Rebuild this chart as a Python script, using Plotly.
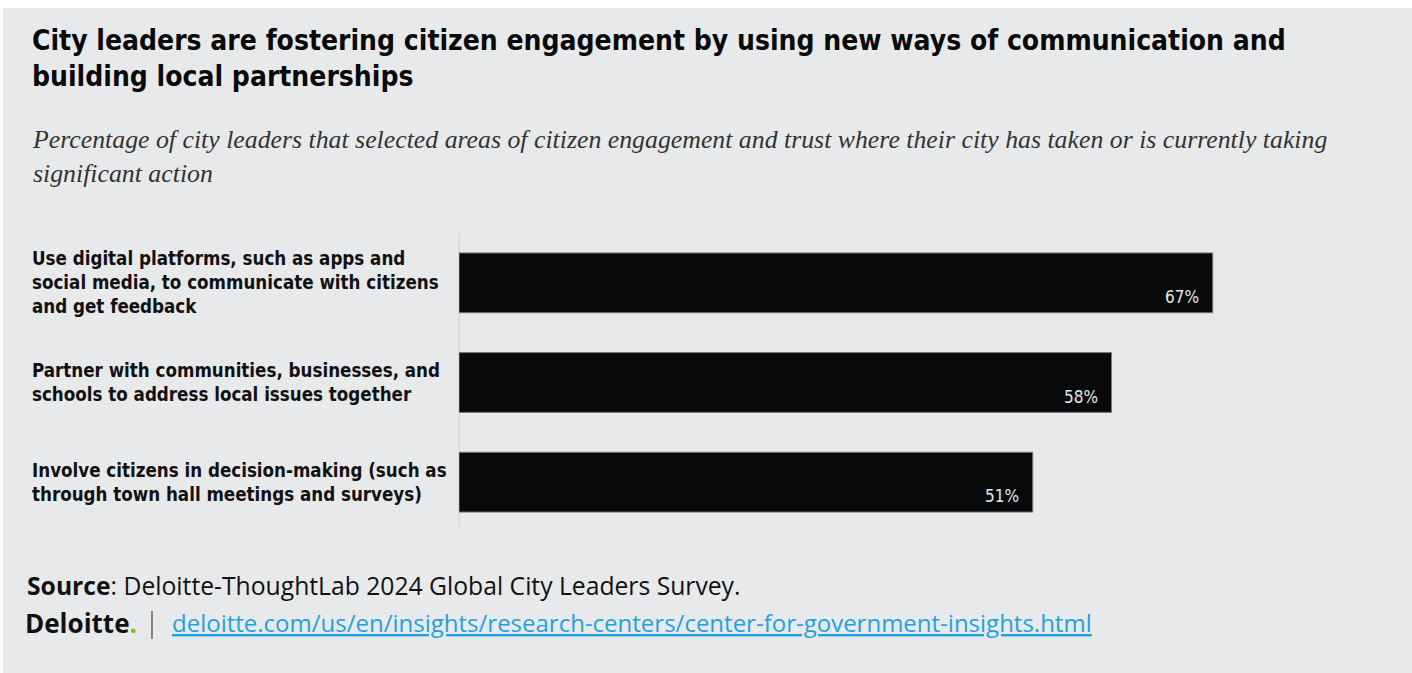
import plotly.graph_objects as go

categories = [
    "Use digital platforms, such as apps and<br>social media, to communicate with citizens<br>and get feedback",
    "Partner with communities, businesses, and<br>schools to address local issues together",
    "Involve citizens in decision-making (such as<br>through town hall meetings and surveys)",
]
values = [67, 58, 51]
value_labels = ["67%", "58%", "51%"]

title = ("City leaders are fostering citizen engagement by using new ways of communication and"
         "<br>building local partnerships")
subtitle = ("Percentage of city leaders that selected areas of citizen engagement and trust where their city has taken or is currently taking"
            "<br>significant action")
source_text = "<b>Source</b>: Deloitte-ThoughtLab 2024 Global City Leaders Survey."
link_text = "deloitte.com/us/en/insights/research-centers/center-for-government-insights.html"

W, H = 1412, 673
BG = "#e8e9eb"
COND = "DejaVu Sans Condensed, Roboto Condensed, Roboto"

fig = go.Figure()
fig.add_trace(go.Bar(
    x=values, y=categories, orientation="h",
    marker=dict(color="#08090b", line=dict(color="#777", width=1)),
    width=0.6, hoverinfo="skip",
))

ml, mr, mt, mb = 459, 12, 233, 141

def px_x(p):
    return (p - ml) / (W - ml - mr)

def px_y(p):
    return 1 - (p - mt) / (H - mt - mb)

ann = []
# category labels (left-aligned)
for c in categories:
    ann.append(dict(x=px_x(30), xref="paper", y=c, yref="y", text="<b>" + c + "</b>", showarrow=False,
                    xanchor="left", yanchor="middle", align="left",
                    font=dict(family=COND, size=18.6, color="#111")))
# value labels
for c, v, t in zip(categories, values, value_labels):
    ann.append(dict(x=v, xref="x", y=c, yref="y", text=t, showarrow=False,
                    xanchor="right", yanchor="middle", xshift=-12, yshift=-14,
                    font=dict(family=COND, size=17, color="#e6e6e6")))

# title / subtitle
ann.append(dict(x=px_x(30), xref="paper", y=px_y(22), yref="paper", text="<b>" + title + "</b>",
                showarrow=False, xanchor="left", yanchor="top", align="left",
                font=dict(family=COND, size=28, color="#0a0a0a")))
ann.append(dict(x=px_x(30), xref="paper", y=px_y(123), yref="paper", text="<i>" + subtitle + "</i>",
                showarrow=False, xanchor="left", yanchor="top", align="left",
                font=dict(family="Liberation Serif", size=25.8, color="#333")))
# footer
ann.append(dict(x=px_x(25), xref="paper", y=px_y(585), yref="paper", text=source_text,
                showarrow=False, xanchor="left", yanchor="middle", align="left",
                font=dict(family="Open Sans", size=24.7, color="#111")))
ann.append(dict(x=px_x(23), xref="paper", y=px_y(623), yref="paper",
                text="<b>Deloitte</b><span style='color:#86bc25'><b>.</b></span>",
                showarrow=False, xanchor="left", yanchor="middle", align="left",
                font=dict(family="Open Sans", size=26, color="#111")))
ann.append(dict(x=px_x(170), xref="paper", y=px_y(622), yref="paper", text="<u>" + link_text + "</u>",
                showarrow=False, xanchor="left", yanchor="middle", align="left",
                font=dict(family="Open Sans", size=24, color="#1fa3e0")))

shapes = [
    dict(type="rect", xref="paper", yref="paper", x0=px_x(0), x1=px_x(W), y0=px_y(0), y1=px_y(8),
         fillcolor="white", line=dict(width=0), layer="below"),
    dict(type="rect", xref="paper", yref="paper", x0=px_x(0), x1=px_x(3), y0=px_y(0), y1=px_y(H),
         fillcolor="white", line=dict(width=0), layer="below"),
    dict(type="line", xref="paper", yref="paper", x0=px_x(152), x1=px_x(152), y0=px_y(611), y1=px_y(639),
         line=dict(color="#444", width=1.2)),
    dict(type="line", xref="paper", yref="paper", x0=0, x1=0, y0=px_y(233), y1=px_y(527),
         line=dict(color="#d3d4d6", width=1.5), layer="below"),
]

fig.update_layout(
    width=W, height=H,
    margin=dict(l=ml, r=mr, t=mt, b=mb),
    paper_bgcolor=BG, plot_bgcolor=BG,
    showlegend=False,
    bargap=0.4,
    xaxis=dict(range=[0, (W - ml - mr) / 11.25], showgrid=False, zeroline=False,
               showticklabels=False, ticks="", fixedrange=True),
    yaxis=dict(autorange="reversed", showgrid=False, zeroline=False, showticklabels=False,
               ticks="", showline=False, fixedrange=True),
    annotations=ann, shapes=shapes,
)

fig.write_html("out.html", config={"displayModeBar": False})
